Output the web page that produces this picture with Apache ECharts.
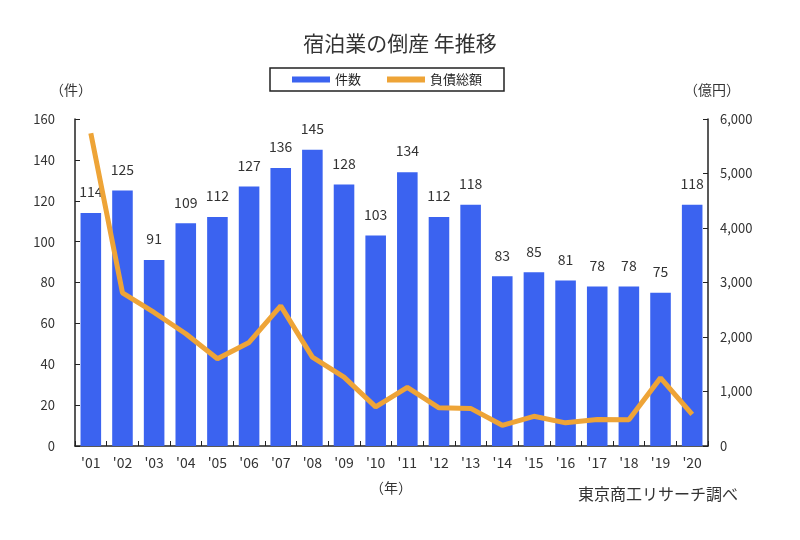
<!DOCTYPE html>
<html>
<head>
<meta charset="utf-8">
<script src="https://cdn.jsdelivr.net/npm/echarts@6/dist/echarts.min.js"></script>
<style>
  body { margin: 0; background: #fff; }
  #main { width: 800px; height: 540px; }
</style>
</head>
<body>
<div id="main"></div>
<script>
// 年（カテゴリ）
var years = ["'01", "'02", "'03", "'04", "'05", "'06", "'07", "'08", "'09", "'10",
             "'11", "'12", "'13", "'14", "'15", "'16", "'17", "'18", "'19", "'20"];
// 件数
var counts = [114, 125, 91, 109, 112, 127, 136, 145, 128, 103,
              134, 112, 118, 83, 85, 81, 78, 78, 75, 118];
// 負債総額（億円）
var debts = [5740, 2810, 2450, 2060, 1600, 1900, 2570, 1630, 1265, 717,
             1075, 700, 690, 380, 545, 425, 485, 480, 1250, 580];

var font = '"Noto Sans CJK JP", sans-serif';

function addCommas(v) {
  return String(v).replace(/\B(?=(\d{3})+(?!\d))/g, ',');
}

var chart = echarts.init(document.getElementById('main'));

var option = {
  backgroundColor: '#fff',
  textStyle: { fontFamily: font },
  title: {
    text: '宿泊業の倒産 年推移',
    left: 'center',
    top: 28,
    textStyle: { fontSize: 21, fontWeight: 'normal', color: '#333', fontFamily: font }
  },
  legend: {
    left: 270,
    top: 68,
    width: 255,
    padding: [5, 22, 5, 22],
    borderColor: '#222',
    borderWidth: 1.5,
    itemWidth: 38,
    itemHeight: 6,
    itemGap: 26,
    textStyle: { fontSize: 13, color: '#222', fontFamily: font },
    data: [
      { name: '件数', icon: 'rect' },
      { name: '負債総額', icon: 'rect' }
    ]
  },
  grid: { left: 75, right: 92, top: 119, bottom: 94 },
  xAxis: {
    type: 'category',
    data: years,
    axisLine: { lineStyle: { color: '#222', width: 1.5 } },
    axisTick: { show: true, inside: true, length: 5, lineStyle: { color: '#222' } },
    axisLabel: { fontSize: 14, color: '#333', margin: 10 }
  },
  yAxis: [
    {
      type: 'value',
      min: 0, max: 160, interval: 20,
      axisLine: { show: true, lineStyle: { color: '#222', width: 1.5 } },
      axisTick: { show: true, inside: true, length: 5, lineStyle: { color: '#222' } },
      axisLabel: { fontSize: 13, color: '#333', margin: 20 },
      splitLine: { show: false }
    },
    {
      type: 'value',
      min: 0, max: 6000, interval: 1000,
      axisLine: { show: true, lineStyle: { color: '#222', width: 1.5 } },
      axisTick: { show: true, inside: true, length: 5, lineStyle: { color: '#222' } },
      axisLabel: { fontSize: 13, color: '#333', margin: 12, formatter: addCommas },
      splitLine: { show: false }
    }
  ],
  graphic: [
    { type: 'text', left: 50, top: 83, style: { text: '（件）', fill: '#333', font: '14px ' + font } },
    { type: 'text', left: 684, top: 83, style: { text: '（億円）', fill: '#333', font: '14px ' + font } },
    { type: 'text', left: 370, top: 481, style: { text: '（年）', fill: '#333', font: '14px ' + font } },
    { type: 'text', left: 578, top: 486, style: { text: '東京商工リサーチ調べ', fill: '#333', font: '16px ' + font } }
  ],
  series: [
    {
      name: '件数',
      type: 'bar',
      data: counts,
      barWidth: '65%',
      itemStyle: { color: '#3b63f0' },
      label: {
        show: true,
        position: 'top',
        distance: 14,
        fontSize: 14,
        color: '#333'
      }
    },
    {
      name: '負債総額',
      type: 'line',
      yAxisIndex: 1,
      data: debts,
      symbol: 'none',
      lineStyle: { color: '#eea437', width: 5 },
      itemStyle: { color: '#eea437' },
      z: 5
    }
  ]
};

chart.setOption(option);
</script>
</body>
</html>
